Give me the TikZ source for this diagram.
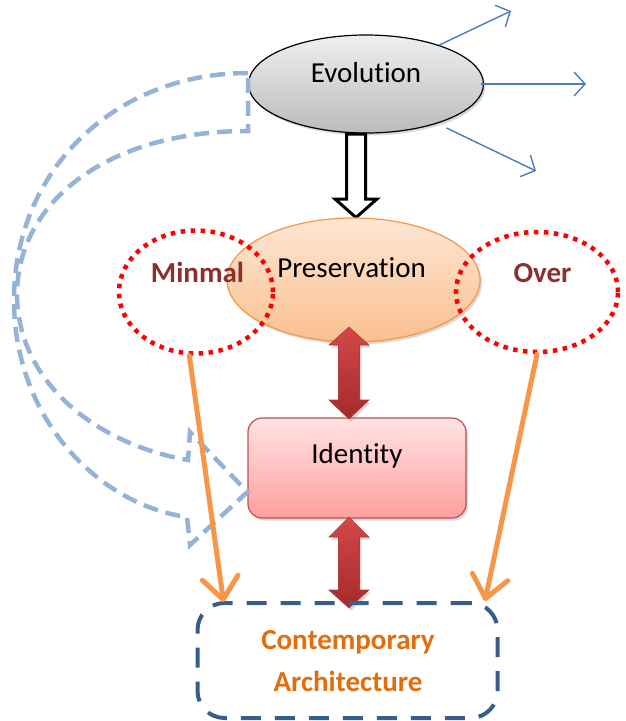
\documentclass[tikz,border=0pt]{standalone}
\usepackage{fontspec}
\setmainfont{Carlito}[Ligatures=NoCommon]
\usetikzlibrary{shapes.geometric,arrows.meta,shadows,calc}

\definecolor{evotop}{HTML}{EFEFEF}
\definecolor{evobot}{HTML}{BBBBBB}
\definecolor{arrowblue}{HTML}{4A7EBB}
\definecolor{curveblue}{HTML}{95B3D7}
\definecolor{prestop}{HTML}{FDE7D5}
\definecolor{presbot}{HTML}{FAC08F}
\definecolor{presedge}{HTML}{F79646}
\definecolor{dotred}{HTML}{FF0000}
\definecolor{wordred}{HTML}{8C302E}
\definecolor{idtop}{HTML}{FFE3E3}
\definecolor{idbot}{HTML}{FF9F9F}
\definecolor{idedge}{HTML}{C0504D}
\definecolor{arrtop}{HTML}{D44848}
\definecolor{arrbot}{HTML}{A52A2A}
\definecolor{arredge}{HTML}{B03C3A}
\definecolor{linkorange}{HTML}{F79646}
\definecolor{boxblue}{HTML}{385D8A}
\definecolor{wordorange}{HTML}{E46C0A}

\begin{document}
\begin{tikzpicture}[x=1pt,y=-1pt,
  lbl/.style={font=\fontsize{29}{31}\selectfont},
  boldlbl/.style={font=\fontsize{29}{31}\selectfont\bfseries},
  softshadow/.style={drop shadow={shadow xshift=2pt,shadow yshift=-2.5pt,opacity=.3}},
  ring/.style={ellipse,draw=dotred,line width=4.5pt,dash pattern=on 4.5pt off 5.5pt,inner sep=0},
  spread/.style={draw=arrowblue,line width=1.4pt,-{Straight Barb[length=11pt,width=24pt]}},
  feed/.style={draw=linkorange,line width=5pt,line cap=round,-{Straight Barb[round,length=22pt,width=36pt]}},
  twoway/.style={top color=arrtop,bottom color=arrbot,draw=arredge,line width=.6pt,softshadow},
]
\useasboundingbox (0,0) rectangle (626,721);

% Evolution and its outward arrows
\node[ellipse,minimum width=235pt,minimum height=98pt,inner sep=0,draw=black,line width=1.2pt,
      top color=evotop,bottom color=evobot,softshadow] (evo) at (366,84) {};
\node[lbl,anchor=base] (evotxt) at (366,82) {Evolution};

\coordinate (u1) at (511,11);
\coordinate (u2) at (586,84);
\coordinate (u3) at (536,171);
\draw[spread] (evo.28) -- (u1);
\draw[spread,shorten <=-3pt] (evo.0) -- (u2);
\draw[spread,shorten <=10pt] (evo.-29) -- (u3);

% hollow arrow down to Preservation
\draw[fill=white,draw=black,line width=3pt,line join=miter]
  (346.5,134) -- (365.5,134) -- (365.5,199) -- (377,199) -- (356,217.5)
  -- (335,199) -- (346.5,199) -- cycle;

% Preservation with the two dotted extremes
\node[ellipse,minimum width=253pt,minimum height=124pt,inner sep=0,draw=presedge,line width=1.2pt,
      top color=prestop,bottom color=presbot,softshadow] (pres) at (353.5,280) {};
\node[lbl,anchor=base] (prestxt) at (351.5,277) {Preservation};

\node[ring,minimum width=154pt,minimum height=123pt] (minm) at (196,292) {};
\node[ring,minimum width=162pt,minimum height=120pt] (over) at (537,292) {};

\node[boldlbl,text=wordred,anchor=base] (minmtxt) at (197.5,282) {Minmal};
\node[boldlbl,text=wordred,anchor=base] (overtxt) at (542.5,282) {Over};

% Identity
\node[rectangle,rounded corners=14pt,minimum width=218pt,minimum height=100pt,draw=idedge,line width=1.2pt,
      top color=idtop,bottom color=idbot,softshadow] (ident) at (357,468) {};
\node[lbl,anchor=base] (identtxt) at (357,463) {Identity};

% two-way links
\path[twoway] (349,327) -- (369,345) -- (359.5,345) -- (359.5,400) -- (369,400) -- (349,419)
  -- (329,400) -- (338.5,400) -- (338.5,345) -- (329,345) -- cycle;
\path[twoway] (349,517) -- (369,537) -- (359.5,537) -- (359.5,590) -- (369,590) -- (349,608)
  -- (329,590) -- (338.5,590) -- (338.5,537) -- (329,537) -- cycle;

% Contemporary Architecture
\node[rectangle,rounded corners=27pt,minimum width=300pt,minimum height=115pt,inner sep=0,
      draw=boxblue,line width=4pt,dash pattern=on 20pt off 14pt] (contemp) at (347.5,660.5) {};
\node[boldlbl,text=wordorange,anchor=base] (ctxt1) at (348,649) {Contemporary};
\node[boldlbl,text=wordorange,anchor=base] (ctxt2) at (348,691) {Architecture};

% curved dashed block arrow from Evolution to Identity
\draw[curveblue,line width=4.5pt,dash pattern=on 15pt off 8pt,line join=miter]
  (248,73) .. controls (115,73) and (14,170) .. (14,300)
  .. controls (14,420) and (100,505) .. (187,517)
  -- (190,545) -- (ident.west |- 0,492) -- (190,432) -- (188,460)
  .. controls (100,445) and (18,385) .. (17,295)
  .. controls (17,200) and (110,131) .. (248,131)
  -- cycle;

% orange feeds into Contemporary Architecture
\draw[feed] (minm.-96) -- ($(contemp.north west)+(28,1)$);
\draw[feed] (over.south) -- ($(contemp.north east)+(-14.5,0)$);
\end{tikzpicture}
\end{document}
